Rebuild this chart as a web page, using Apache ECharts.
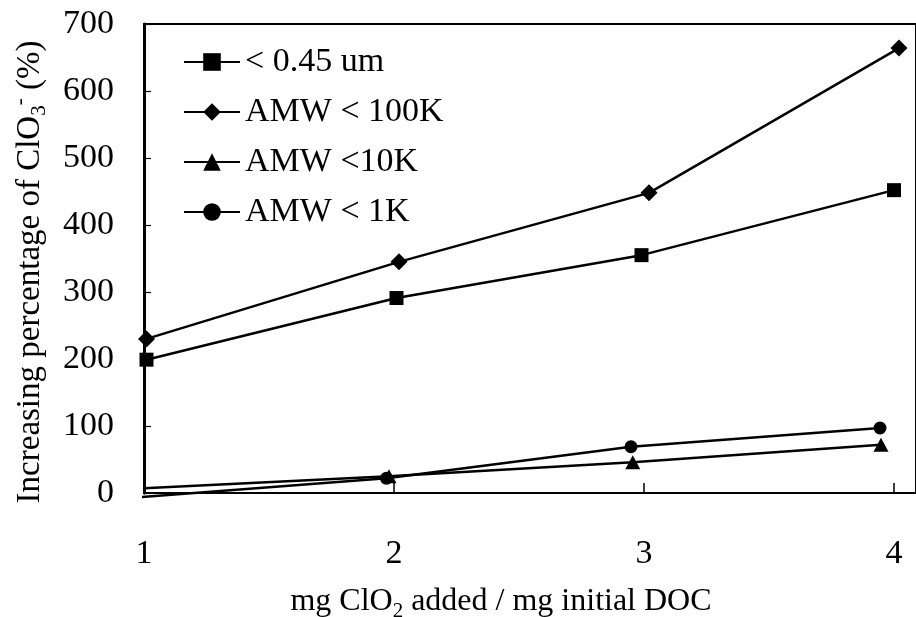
<!DOCTYPE html>
<html>
<head>
<meta charset="utf-8">
<script src="https://cdn.jsdelivr.net/npm/echarts@6/dist/echarts.min.js"></script>
<style>
  html, body { margin: 0; padding: 0; background: #fff; }
  #chart { width: 916px; height: 617px; }
</style>
</head>
<body>
<div id="chart"></div>
<script>
// Series names (legend order)
const seriesNames = ['< 0.45 um', 'AMW < 100K', 'AMW <10K', 'AMW < 1K'];

// mg ClO2 added / mg initial DOC, per series
const xFiltered = [1.01, 2.01, 2.99, 4.0];
const x100K     = [1.01, 2.02, 3.02, 4.02];
const x10K      = [1.0, 1.98, 2.955, 3.948];
const x1K       = [0.985, 1.97, 2.948, 3.944];

// Increasing percentage of ClO3- (%)
const yFiltered = [199, 291, 355, 452];
const y100K     = [230, 345, 448, 664];
const y10K      = [7, 25, 46, 72];
const y1K       = [-6, 22, 69, 97];

// Axis ticks
const xTicks = [1, 2, 3, 4];
const yTicks = [0, 100, 200, 300, 400, 500, 600, 700];

const FONT = 'Liberation Serif';

function pairs(xs, ys, hideFirstSymbol) {
  return xs.map((x, i) => {
    const item = { value: [x, ys[i]] };
    if (hideFirstSymbol && i === 0) item.symbol = 'none';
    return item;
  });
}

function lineSeries(name, xs, ys, symbol, size, hideFirst) {
  return {
    name: name,
    type: 'line',
    data: pairs(xs, ys, hideFirst),
    symbol: symbol,
    symbolSize: size,
    showSymbol: true,
    clip: false,
    lineStyle: { color: '#000', width: 2.5 },
    itemStyle: { color: '#000', borderWidth: 0 },
    emphasis: { disabled: true },
    animation: false,
    z: 3
  };
}

const chart = echarts.init(document.getElementById('chart'), null, { renderer: 'canvas' });

chart.setOption({
  backgroundColor: '#fff',
  animation: false,
  grid: {
    left: 144, top: 24, width: 775, height: 469,
    show: true, borderColor: '#000', borderWidth: 2, backgroundColor: 'transparent'
  },
  legend: {
    orient: 'vertical',
    left: 183, top: 45,
    padding: 0,
    itemWidth: 56, itemHeight: 22, itemGap: 16,
    data: seriesNames,
    textStyle: { fontFamily: FONT, fontSize: 34, color: '#000', lineHeight: 34 },
    selectedMode: false
  },
  xAxis: {
    type: 'value',
    min: 1, max: 4.088,
    interval: 1,
    splitLine: { show: false },
    axisLine: { show: true, onZero: false, lineStyle: { color: '#000', width: 2 } },
    axisTick: { show: true, inside: true, length: 10, customValues: xTicks, lineStyle: { color: '#000', width: 1.5 } },
    axisLabel: {
      customValues: xTicks,
      margin: 44,
      fontFamily: FONT, fontSize: 34, color: '#000'
    }
  },
  yAxis: {
    type: 'value',
    min: 0, max: 700, interval: 100,
    splitLine: { show: false },
    axisLine: { show: true, lineStyle: { color: '#000', width: 3 } },
    axisTick: { show: true, inside: true, length: 7, customValues: yTicks, lineStyle: { color: '#000', width: 1.2 } },
    axisLabel: {
      customValues: yTicks,
      margin: 30,
      fontFamily: FONT, fontSize: 34, color: '#000'
    }
  },
  series: [
    lineSeries(seriesNames[0], xFiltered, yFiltered, 'rect', 14, false),
    lineSeries(seriesNames[1], x100K, y100K, 'diamond', 17, false),
    lineSeries(seriesNames[2], x10K, y10K, 'triangle', [15, 14], true),
    lineSeries(seriesNames[3], x1K, y1K, 'circle', 13, true)
  ],
  graphic: [
    {
      // x-axis title with subscript
      type: 'text',
      x: 501, y: 602,
      style: {
        text: '{a|mg ClO}{s|2}{a| added / mg initial DOC}',
        fill: '#000',
        align: 'center',
        verticalAlign: 'middle',
        rich: {
          a: { fontFamily: FONT, fontSize: 32, lineHeight: 40, verticalAlign: 'middle', fill: '#000' },
          s: { fontFamily: FONT, fontSize: 21, lineHeight: 18, verticalAlign: 'bottom', fill: '#000' }
        }
      }
    },
    {
      // y-axis title with subscript / superscript
      type: 'text',
      x: 30, y: 272,
      rotation: Math.PI / 2,
      style: {
        text: '{a|Increasing percentage of ClO}{s|3}{p|-}{a| (%)}',
        fill: '#000',
        align: 'center',
        verticalAlign: 'middle',
        rich: {
          a: { fontFamily: FONT, fontSize: 33, lineHeight: 40, verticalAlign: 'middle', fill: '#000' },
          s: { fontFamily: FONT, fontSize: 21, lineHeight: 18, verticalAlign: 'bottom', fill: '#000' },
          p: { fontFamily: FONT, fontSize: 21, lineHeight: 18, verticalAlign: 'top', fill: '#000' }
        }
      }
    }
  ]
});
</script>
</body>
</html>
